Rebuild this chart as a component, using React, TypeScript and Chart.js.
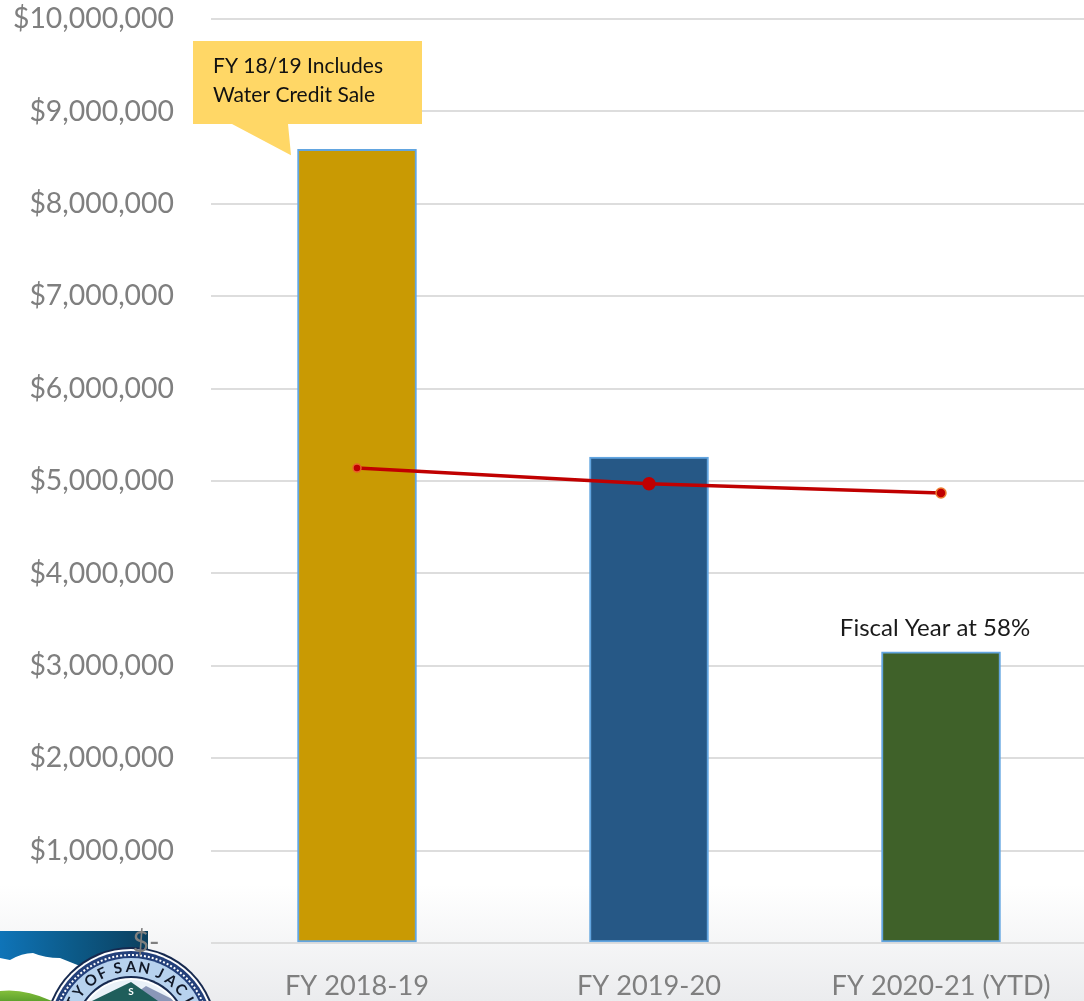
import React, { useEffect, useRef } from "react";
import { Chart, registerables } from "chart.js";

Chart.register(...registerables);

const categories = ["FY 2018-19", "FY 2019-20", "FY 2020-21 (YTD)"];
const barValues = [8590000, 5260000, 3150000];
const lineValues = [5140000, 4970000, 4870000];
const barColors = ["#C99A03", "#265886", "#3F6129"];
const pointRadii = [4, 6, 5];
const pointBorders = ["#E8622A", "#C00000", "#ED7D31"];
const calloutLines = ["FY 18/19 Includes", "Water Credit Sale"];
const fiscalNote = "Fiscal Year at 58%";
const sealText = "CITY OF SAN JACINTO";
const FONT = "Lato, Carlito, 'Open Sans', sans-serif";

const formatMoney = (v: number) =>
  v === 0 ? "$-\u00A0\u00A0" : "$" + v.toLocaleString("en-US");

const backdrop = {
  id: "backdrop",
  beforeDraw(chart: any) {
    const { ctx } = chart;
    ctx.save();
    const g = ctx.createLinearGradient(0, 885, 0, 1001);
    g.addColorStop(0, "#ffffff");
    g.addColorStop(1, "#ebecee");
    ctx.fillStyle = g;
    ctx.fillRect(0, 880, chart.width, 121);

    // logo banner
    const b = ctx.createLinearGradient(0, 0, 148, 0);
    b.addColorStop(0, "#0F74B8");
    b.addColorStop(0.5, "#0C5A88");
    b.addColorStop(1, "#0B3F5E");
    ctx.fillStyle = b;
    ctx.fillRect(0, 931, 148, 70);
    ctx.fillStyle = "#ffffff";
    ctx.beginPath();
    ctx.moveTo(0, 958);
    ctx.lineTo(10, 960);
    ctx.quadraticCurveTo(22, 953, 33, 953);
    ctx.quadraticCurveTo(45, 958, 60, 958);
    ctx.lineTo(85, 968);
    ctx.lineTo(110, 1001);
    ctx.lineTo(0, 1001);
    ctx.closePath();
    ctx.fill();
    const green = ctx.createLinearGradient(0, 988, 0, 1001);
    green.addColorStop(0, "#8CC63F");
    green.addColorStop(1, "#5FA22D");
    ctx.fillStyle = green;
    ctx.beginPath();
    ctx.moveTo(0, 991);
    ctx.quadraticCurveTo(24, 988, 52, 1001);
    ctx.lineTo(0, 1001);
    ctx.closePath();
    ctx.fill();

    // seal
    const cx = 131, cy = 1033;
    const ring = (r: number, c: string) => {
      ctx.fillStyle = c;
      ctx.beginPath();
      ctx.arc(cx, cy, r, 0, Math.PI * 2);
      ctx.fill();
    };
    ring(86, "#16294F");
    ring(84, "#ffffff");
    ring(82, "#23407A");
    ctx.strokeStyle = "#ffffff";
    ctx.lineWidth = 2;
    ctx.setLineDash([2, 2]);
    ctx.beginPath();
    ctx.arc(cx, cy, 78, 0, Math.PI * 2);
    ctx.stroke();
    ctx.setLineDash([]);
    ring(75, "#B7D2EE");
    ring(57, "#16294F");
    ring(55, "#ffffff");
    ring(53, "#EAF1F8");
    ctx.beginPath();
    ctx.arc(cx, cy, 53, 0, Math.PI * 2);
    ctx.clip();
    ctx.fillStyle = "#8A97B8";
    ctx.beginPath();
    ctx.moveTo(125, 1001);
    ctx.lineTo(146, 986);
    ctx.lineTo(176, 1001);
    ctx.closePath();
    ctx.fill();
    ctx.fillStyle = "#1F5E5B";
    ctx.beginPath();
    ctx.moveTo(92, 1001);
    ctx.lineTo(131, 982);
    ctx.lineTo(158, 1001);
    ctx.closePath();
    ctx.fill();
    ctx.restore();

    ctx.save();
    ctx.fillStyle = "#111827";
    ctx.font = `bold 15px ${FONT}`;
    ctx.textAlign = "center";
    ctx.textBaseline = "middle";
    const chars = Array.from(sealText);
    const centre = chars.indexOf("A");
    let offset = 0;
    const angles: number[] = [];
    chars.forEach((ch, i) => {
      angles[i] = offset;
      offset += ch === " " || chars[i + 1] === " " ? 0.125 : 0.2;
    });
    chars.forEach((ch, i) => {
      const a = angles[i] - angles[centre];
      ctx.save();
      ctx.translate(cx + Math.sin(a) * 66, cy - Math.cos(a) * 66);
      ctx.rotate(a);
      ctx.fillText(ch, 0, 0);
      ctx.restore();
    });
    ctx.fillStyle = "#ffffff";
    ctx.font = `bold 10px ${FONT}`;
    ctx.fillText("S", 131, 992);
    ctx.restore();
  },
};

const notes = {
  id: "notes",
  afterDatasetsDraw(chart: any) {
    const { ctx, scales } = chart;
    const x0 = scales.x.getPixelForValue(0);
    const barTop = scales.y.getPixelForValue(barValues[0]);
    const x2 = scales.x.getPixelForValue(2);
    const top3 = scales.y.getPixelForValue(barValues[2]);
    ctx.save();
    ctx.fillStyle = "#FFD766";
    ctx.beginPath();
    ctx.moveTo(x0 - 164, 41);
    ctx.lineTo(x0 + 65, 41);
    ctx.lineTo(x0 + 65, 124);
    ctx.lineTo(x0 - 69, 124);
    ctx.lineTo(x0 - 66, barTop + 6);
    ctx.lineTo(x0 - 125, 124);
    ctx.lineTo(x0 - 164, 124);
    ctx.closePath();
    ctx.fill();
    ctx.fillStyle = "#111111";
    ctx.font = `21px ${FONT}`;
    ctx.textAlign = "left";
    ctx.textBaseline = "alphabetic";
    ctx.fillText(calloutLines[0], x0 - 144, 73);
    ctx.fillText(calloutLines[1], x0 - 144, 102);
    ctx.textAlign = "center";
    ctx.fillStyle = "#1a1a1a";
    ctx.font = `24px ${FONT}`;
    ctx.fillText(fiscalNote, x2 - 6, top3 - 16);
    ctx.restore();
  },
};

export default function App() {
  const ref = useRef<HTMLCanvasElement>(null);
  useEffect(() => {
    document.body.style.margin = "0";
    document.body.style.overflow = "hidden";
    const chart = new Chart(ref.current!, {
      type: "bar",
      data: {
        labels: categories,
        datasets: [
          {
            type: "line",
            data: lineValues,
            borderColor: "#C00000",
            borderWidth: 3.5,
            pointBackgroundColor: "#C00000",
            pointBorderColor: pointBorders,
            pointBorderWidth: 1.5,
            pointRadius: pointRadii,
            tension: 0,
            order: 0,
          },
          {
            type: "bar",
            data: barValues,
            backgroundColor: barColors,
            borderColor: "#62A5E0",
            borderWidth: 2,
            borderSkipped: false,
            barThickness: 119,
            order: 1,
          },
        ],
      } as any,
      options: {
        animation: false,
        responsive: false,
        maintainAspectRatio: false,
        layout: { autoPadding: false, padding: { top: 0, left: 0, right: 0, bottom: 0 } },
        plugins: { legend: { display: false }, tooltip: { enabled: false } },
        scales: {
          x: {
            grid: { display: false },
            border: { display: false },
            ticks: {
              color: "#7F7F7F",
              font: { family: FONT, size: 27.2 },
              padding: 19,
              maxRotation: 0,
              autoSkip: false,
            },
            afterFit(s: any) {
              s.height = 58;
              s.paddingLeft = 0;
              s.paddingRight = 0;
            },
          },
          y: {
            min: 0,
            max: 10000000,
            grid: { color: "#DDDDDD", lineWidth: 2, drawTicks: false },
            border: { display: false },
            ticks: {
              stepSize: 1000000,
              color: "#7F7F7F",
              font: { family: FONT, size: 28.4 },
              padding: 37,
              callback: (v: any) => formatMoney(Number(v)),
            },
            afterFit(s: any) {
              s.width = 211;
              s.paddingTop = 19;
              s.paddingBottom = 0;
            },
          },
        },
      },
      plugins: [backdrop, notes],
    } as any);
    return () => chart.destroy();
  }, []);
  return (
    <div style={{ width: 1084, height: 1001, overflow: "hidden", position: "relative" }}>
      <canvas
        ref={ref}
        width={1087}
        height={1001}
        style={{ display: "block", position: "absolute", left: 0, top: 0, width: 1087, height: 1001 }}
      />
    </div>
  );
}
